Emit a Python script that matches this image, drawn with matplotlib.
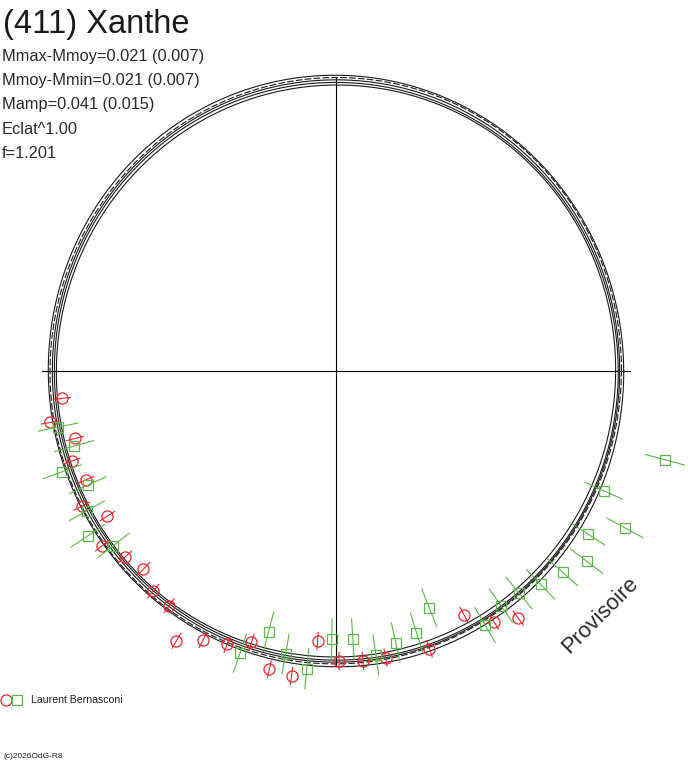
import matplotlib.pyplot as plt
import numpy as np

plt.rcParams["font.family"] = ["Liberation Sans", "DejaVu Sans"]

# ---------------------------------------------------------------------------
# Data (phase angle in degrees, radius in units of the mean curve radius)
# ---------------------------------------------------------------------------
title = "(411) Xanthe"
info_lines = [
    "Mmax-Mmoy=0.021 (0.007)",
    "Mmoy-Mmin=0.021 (0.007)",
    "Mamp=0.041 (0.015)",
    "Eclat^1.00",
    "f=1.201",
]
observer = "Laurent Bernasconi"

red_angle = [185.7, 190.2, 194.5, 198.8, 203.5, 208.0, 212.4, 216.8, 221.4,
             225.8, 230.3, 234.6, 239.4, 243.7, 248.3, 252.7, 257.4, 261.7,
             266.1, 270.6, 275.3, 279.8, 288.6, 297.7, 302.2, 306.4]
red_radius = [0.957, 1.009, 0.936, 0.969, 0.948, 1.000, 0.940, 1.013, 0.977,
              0.959, 0.993, 1.000, 1.088, 1.041, 1.021, 0.987, 1.061, 1.070,
              0.940, 1.007, 1.010, 1.010, 1.017, 0.957, 1.029, 1.066]
red_err = 0.03

green_angle = [191.4, 196.0, 200.2, 204.7, 209.3, 213.6, 218.1, 251.2, 255.5,
               259.9, 264.4, 269.1, 273.6, 278.0, 282.4, 287.1, 291.5, 300.4,
               305.1, 309.5, 313.8, 318.4, 322.8, 327.1, 331.5, 335.9, 344.9]
green_radius = [0.984, 0.946, 1.013, 0.949, 0.992, 1.034, 0.983, 1.035, 0.936,
                0.998, 1.039, 0.931, 0.932, 0.996, 0.966, 0.950, 0.883, 1.023,
                0.996, 0.999, 1.027, 1.052, 1.092, 1.041, 1.141, 1.018, 1.183]
green_err = 0.07

# fitted model curves: r = r0 + c1*cos(t) + s1*sin(t) + c2*cos(2t) + s2*sin(2t)
curve_r0 = [0.982, 0.991, 0.998, 1.005, 1.013]
curve_c1 = [0.000, 0.001, 0.000, -0.001, 0.000]
curve_s1 = [0.000, -0.001, 0.000, 0.001, 0.000]
curve_c2 = [-0.011, -0.012, -0.013, -0.013, -0.014]
curve_s2 = [0.002, -0.001, 0.000, 0.002, -0.002]
curve_style = ["-", "-", "-", (0, (6, 2)), "-"]

# ---------------------------------------------------------------------------
# Figure
# ---------------------------------------------------------------------------
fig = plt.figure(figsize=(6.88, 7.68), dpi=100)
ax = fig.add_axes([0, 0, 1, 1])
ax.set_xlim(-336 / 288, 352 / 288)
ax.set_ylim(-397 / 288, 371 / 288)
ax.axis("off")

# cross
ax.plot([-1.02, 1.02], [0, 0], color="black", lw=0.8)
ax.plot([0, 0], [-1.02, 1.02], color="black", lw=0.8)

# model curves
t = np.linspace(0, 2 * np.pi, 721)
for r0, c1, s1, c2, s2, ls in zip(curve_r0, curve_c1, curve_s1, curve_c2,
                                  curve_s2, curve_style):
    r = r0 + c1 * np.cos(t) + s1 * np.sin(t) + c2 * np.cos(2 * t) + s2 * np.sin(2 * t)
    ax.plot(r * np.cos(t), r * np.sin(t), color="#1a1a1a", lw=0.8, ls=ls)


def draw_points(angle, radius, err, color, marker, ms):
    a = np.radians(angle)
    rad = np.array(radius)
    x, y = rad * np.cos(a), rad * np.sin(a)
    xs = np.vstack([(rad - err) * np.cos(a), (rad + err) * np.cos(a)])
    ys = np.vstack([(rad - err) * np.sin(a), (rad + err) * np.sin(a)])
    ax.plot(xs, ys, color=color, lw=0.8)
    ax.plot(x, y, ls="none", marker=marker, ms=ms, mfc="none", mec=color, mew=0.9)


draw_points(red_angle, red_radius, red_err, "#e8282c", "o", 8)
draw_points(green_angle, green_radius, green_err, "#5cb848", "s", 7)

# texts
fig.text(3 / 688, 1 - 25 / 768, title, fontsize=23.5, va="center", color="#1a1a1a")
for i, line in enumerate(info_lines):
    fig.text(2 / 688, 1 - (57 + 24 * i) / 768, line, fontsize=11.8,
             va="center", color="#2a2a2a")

fig.text(600 / 688, 1 - 615 / 768, "Provisoire", fontsize=16, rotation=45,
         ha="center", va="center", color="#2a2a2a")

# legend
fig.lines.append(plt.Line2D([6 / 688], [1 - 700 / 768], marker="o", ms=8,
                            mfc="none", mec="#e8282c", mew=0.9,
                            transform=fig.transFigure))
fig.lines.append(plt.Line2D([17 / 688], [1 - 700 / 768], marker="s", ms=6.5,
                            mfc="none", mec="#5cb848", mew=0.9,
                            transform=fig.transFigure))
fig.text(31 / 688, 1 - 700 / 768, observer, fontsize=7.6, va="center",
         color="#222")
fig.text(3 / 688, 1 - 757 / 768, "(c)2026OdG-R8", fontsize=6, va="center",
         color="#222")

fig.savefig("out.png", dpi=100, facecolor="white")
